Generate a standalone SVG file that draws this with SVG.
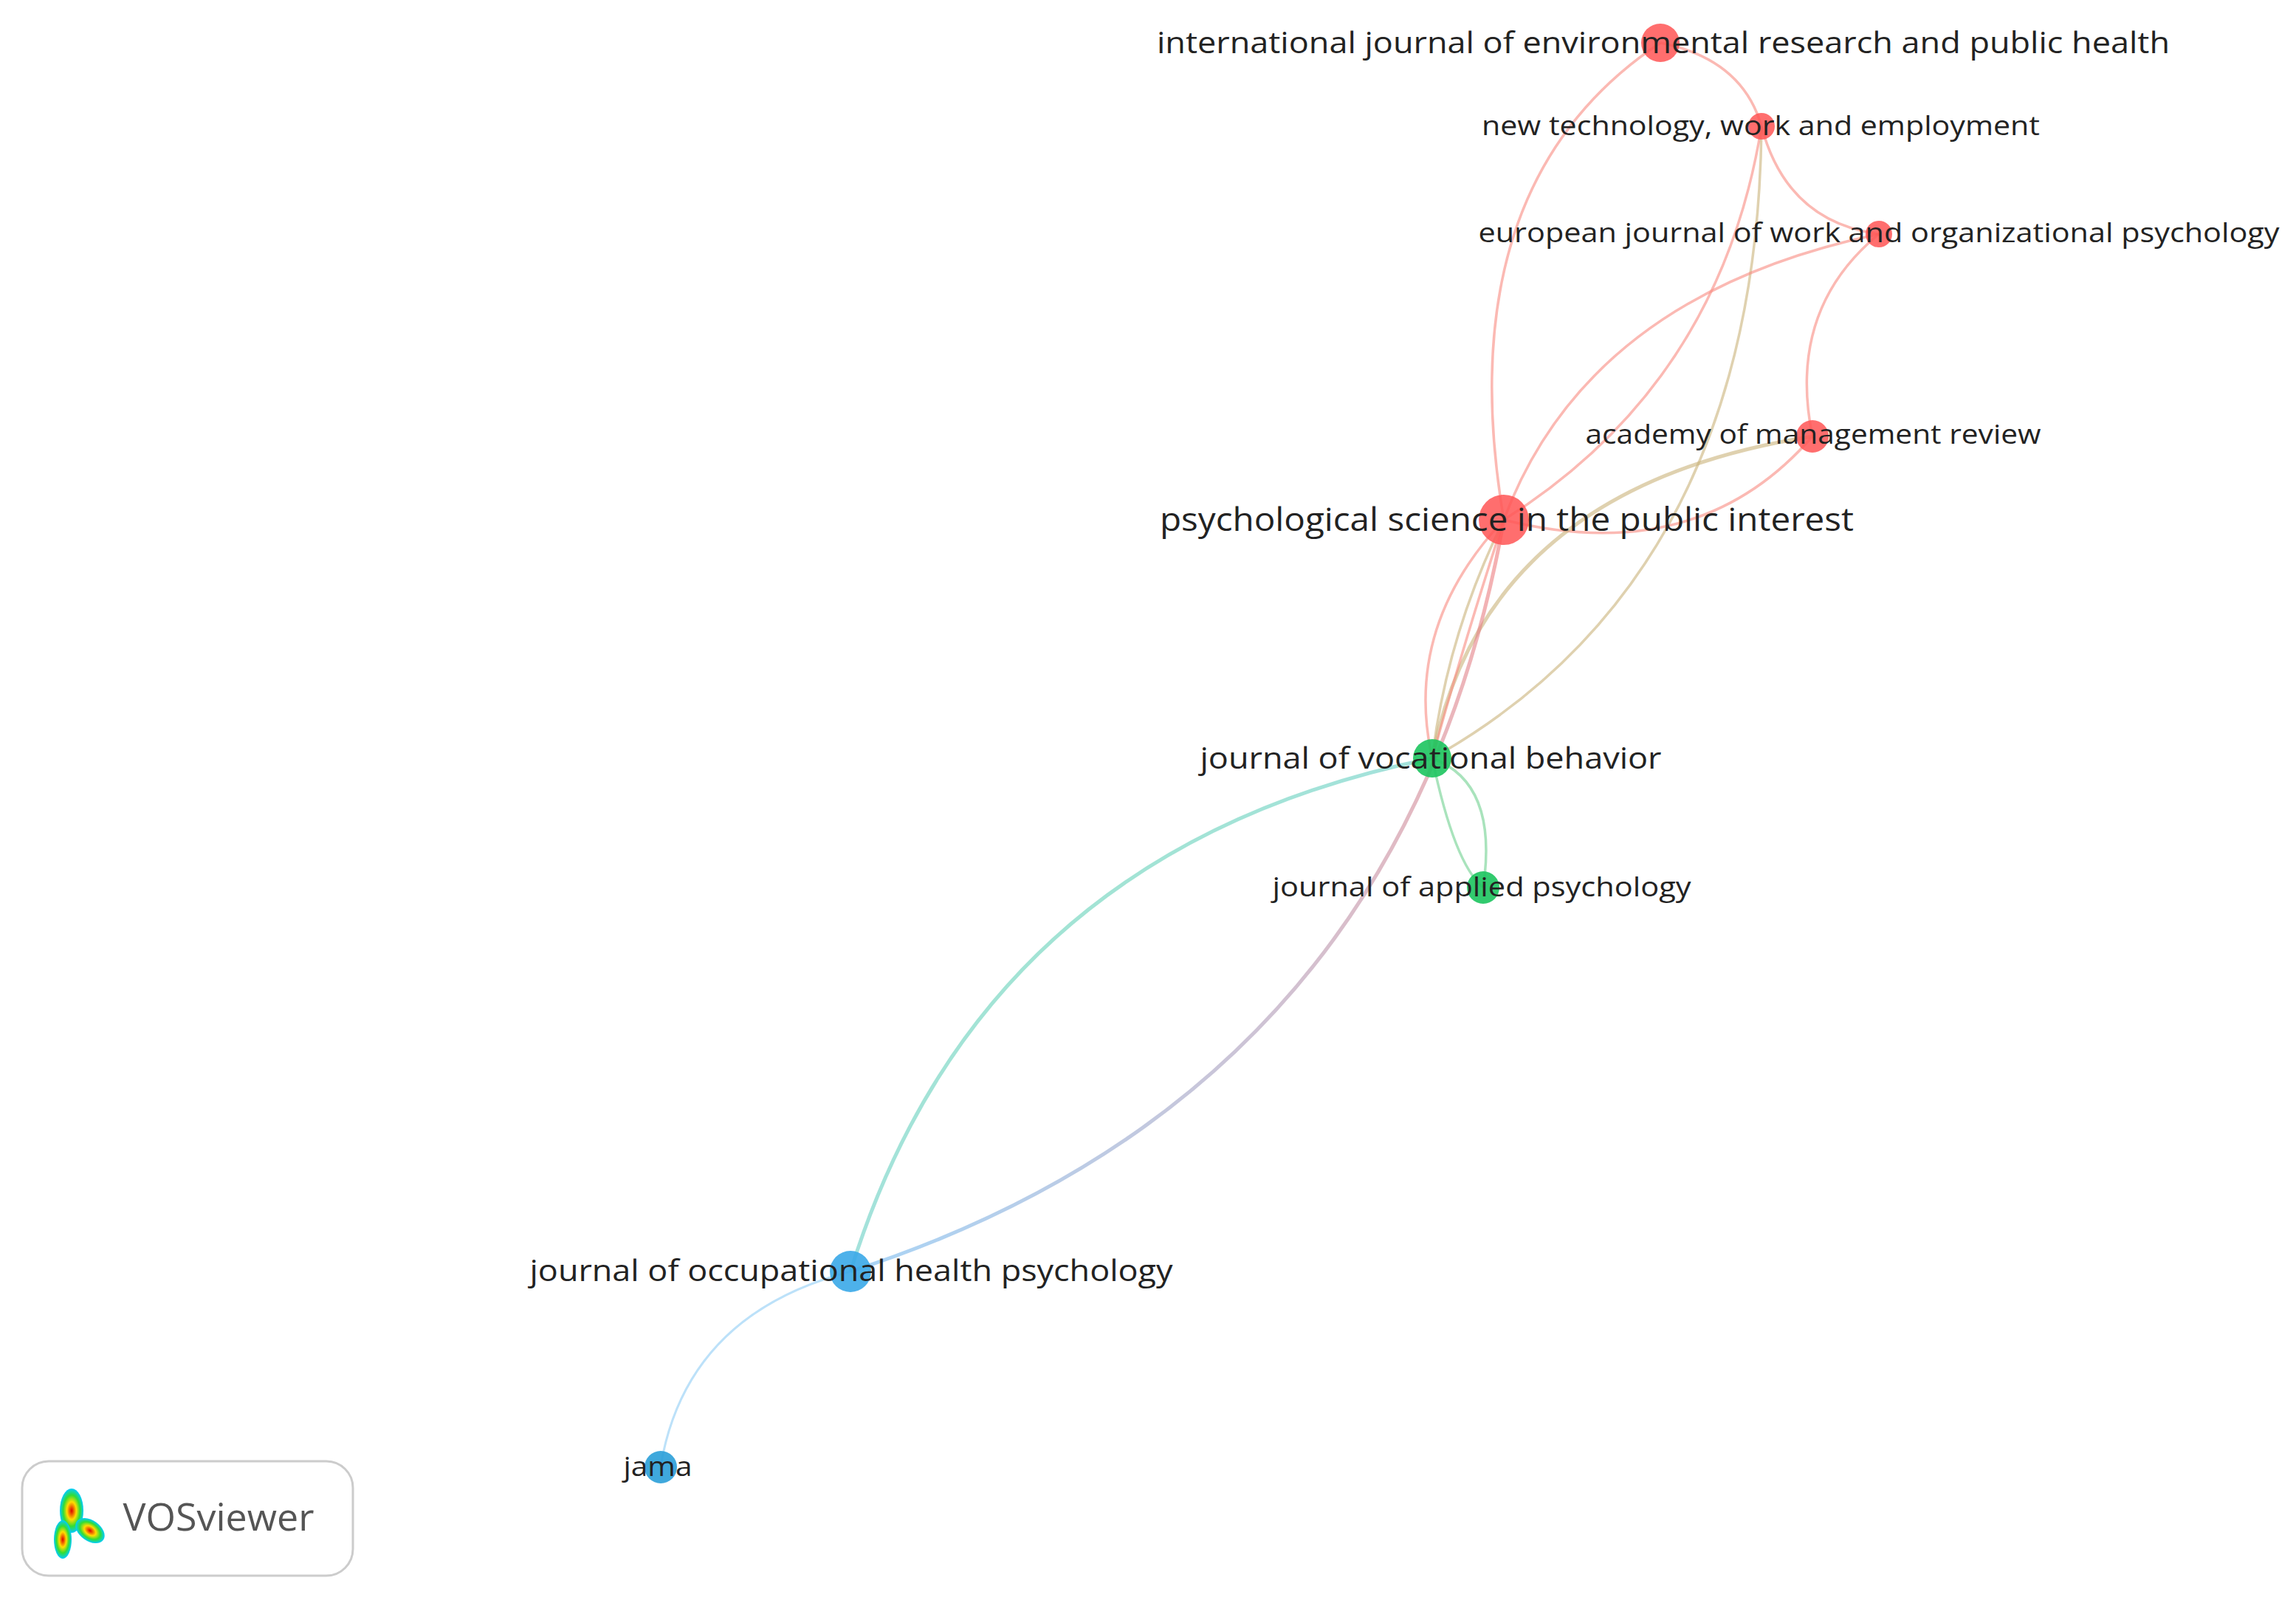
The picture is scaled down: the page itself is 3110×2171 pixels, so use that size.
<svg xmlns="http://www.w3.org/2000/svg" width="3110" height="2171" viewBox="0 0 3110 2171">
<defs>
<style>
text{font-family:"Open Sans","Noto Sans",sans-serif;fill:#222;text-anchor:middle}
.e{fill:none;stroke-width:3.5;stroke-opacity:.6}
.r{stroke:#f88a80}.g{stroke:#6fd08f}.o{stroke:#c9b27a}
</style>
<linearGradient id="gb" x1="0" y1="0" x2="1" y2="1"><stop offset="0" stop-color="#5fd89a"/><stop offset="1" stop-color="#6fc4f0"/></linearGradient>
<linearGradient id="rb" x1="1" y1="0" x2="0" y2="1"><stop offset="0" stop-color="#f27a7a"/><stop offset="1" stop-color="#6fb8f0"/></linearGradient>
<radialGradient id="logo" cx=".5" cy=".5" r=".5"><stop offset="0" stop-color="#d00"/><stop offset=".4" stop-color="#fd0"/><stop offset=".7" stop-color="#3d3"/><stop offset="1" stop-color="#0cf"/></radialGradient>
</defs>
<rect width="3110" height="2171" fill="#fff"/>
<g id="edges">
<path class="e r" d="M2037,704 Q1960,250 2249,58"/>
<path class="e r" d="M2249,58 Q2360,80 2386,171"/>
<path class="e r" d="M2386,171 Q2420,300 2545,317"/>
<path class="e r" d="M2386,171 Q2330,520 2037,704"/>
<path class="e o" d="M2386,171 Q2380,780 1940,1027"/>
<path class="e r" d="M2545,317 Q2150,400 2037,704"/>
<path class="e r" d="M2545,317 Q2420,420 2455,591"/>
<path class="e r" d="M2455,591 Q2300,770 2037,704"/>
<path class="e o" style="stroke-width:5" d="M2455,591 Q2010,660 1940,1027"/>
<path class="e r" d="M2037,704 Q1900,850 1940,1027"/>
<path class="e o" d="M2037,704 Q1960,860 1940,1027"/>
<path class="e r" d="M2037,704 Q1980,880 1940,1027"/>
<path class="e g" d="M1940,1027 Q2030,1060 2009,1202"/>
<path class="e g" d="M1940,1027 Q1970,1170 2009,1202"/>
<path class="e" style="stroke:url(#gb);stroke-width:5" d="M1940,1027 Q1330,1150 1152,1722"/>
<path class="e" style="stroke:url(#rb);stroke-width:5" d="M2037,704 Q1900,1480 1152,1722"/>
<path class="e" style="stroke:#8fcdf5;stroke-width:3" d="M1152,1722 Q930,1780 895,1985"/>
</g>
<g id="n-ijerph"><circle cx="2249" cy="58" r="26" fill="#f55" opacity=".85"/><text x="2253" y="72" font-size="40" textLength="1372" lengthAdjust="spacingAndGlyphs">international journal of environmental research and public health</text></g>
<g id="n-ntwe"><circle cx="2386" cy="171" r="18" fill="#f55" opacity=".85"/><text x="2385" y="183" font-size="36" textLength="756" lengthAdjust="spacingAndGlyphs">new technology, work and employment</text></g>
<g id="n-ejwop"><circle cx="2545" cy="317" r="18" fill="#f55" opacity=".85"/><text x="2545" y="328" font-size="36" textLength="1085" lengthAdjust="spacingAndGlyphs">european journal of work and organizational psychology</text></g>
<g id="n-amr"><circle cx="2455" cy="591" r="22" fill="#f55" opacity=".85"/><text x="2456" y="601" font-size="36" textLength="617" lengthAdjust="spacingAndGlyphs">academy of management review</text></g>
<g id="n-pspi"><circle cx="2037" cy="704" r="34" fill="#f55" opacity=".85"/><text x="2041" y="719" font-size="44" textLength="940" lengthAdjust="spacingAndGlyphs">psychological science in the public interest</text></g>
<g id="n-jvb"><circle cx="1940" cy="1027" r="26" fill="#1cc45e" opacity=".9"/><text x="1938" y="1041" font-size="40" textLength="625" lengthAdjust="spacingAndGlyphs">journal of vocational behavior</text></g>
<g id="n-jap"><circle cx="2009" cy="1202" r="22" fill="#1cc45e" opacity=".9"/><text x="2007" y="1214" font-size="36" textLength="567" lengthAdjust="spacingAndGlyphs">journal of applied psychology</text></g>
<g id="n-johp"><circle cx="1152" cy="1722" r="28" fill="#3aa8e8" opacity=".9"/><text x="1153" y="1735" font-size="40" textLength="871" lengthAdjust="spacingAndGlyphs">journal of occupational health psychology</text></g>
<g id="n-jama"><circle cx="895" cy="1987" r="22" fill="#2a9ed8" opacity=".9"/><text x="891" y="1999" font-size="36" textLength="93" lengthAdjust="spacingAndGlyphs">jama</text></g>
<g id="logo-box">
<rect x="30" y="1979" width="448" height="155" rx="36" fill="#fff" stroke="#ccc" stroke-width="3"/>
<ellipse cx="97" cy="2046" rx="16" ry="30" fill="url(#logo)"/>
<ellipse cx="85" cy="2085" rx="12" ry="26" fill="url(#logo)"/>
<ellipse cx="122" cy="2073" rx="22" ry="14" fill="url(#logo)" transform="rotate(35 122 2073)"/>
<text x="296" y="2073" font-size="52" fill="#555" style="fill:#555">VOSviewer</text>
</g>
</svg>
